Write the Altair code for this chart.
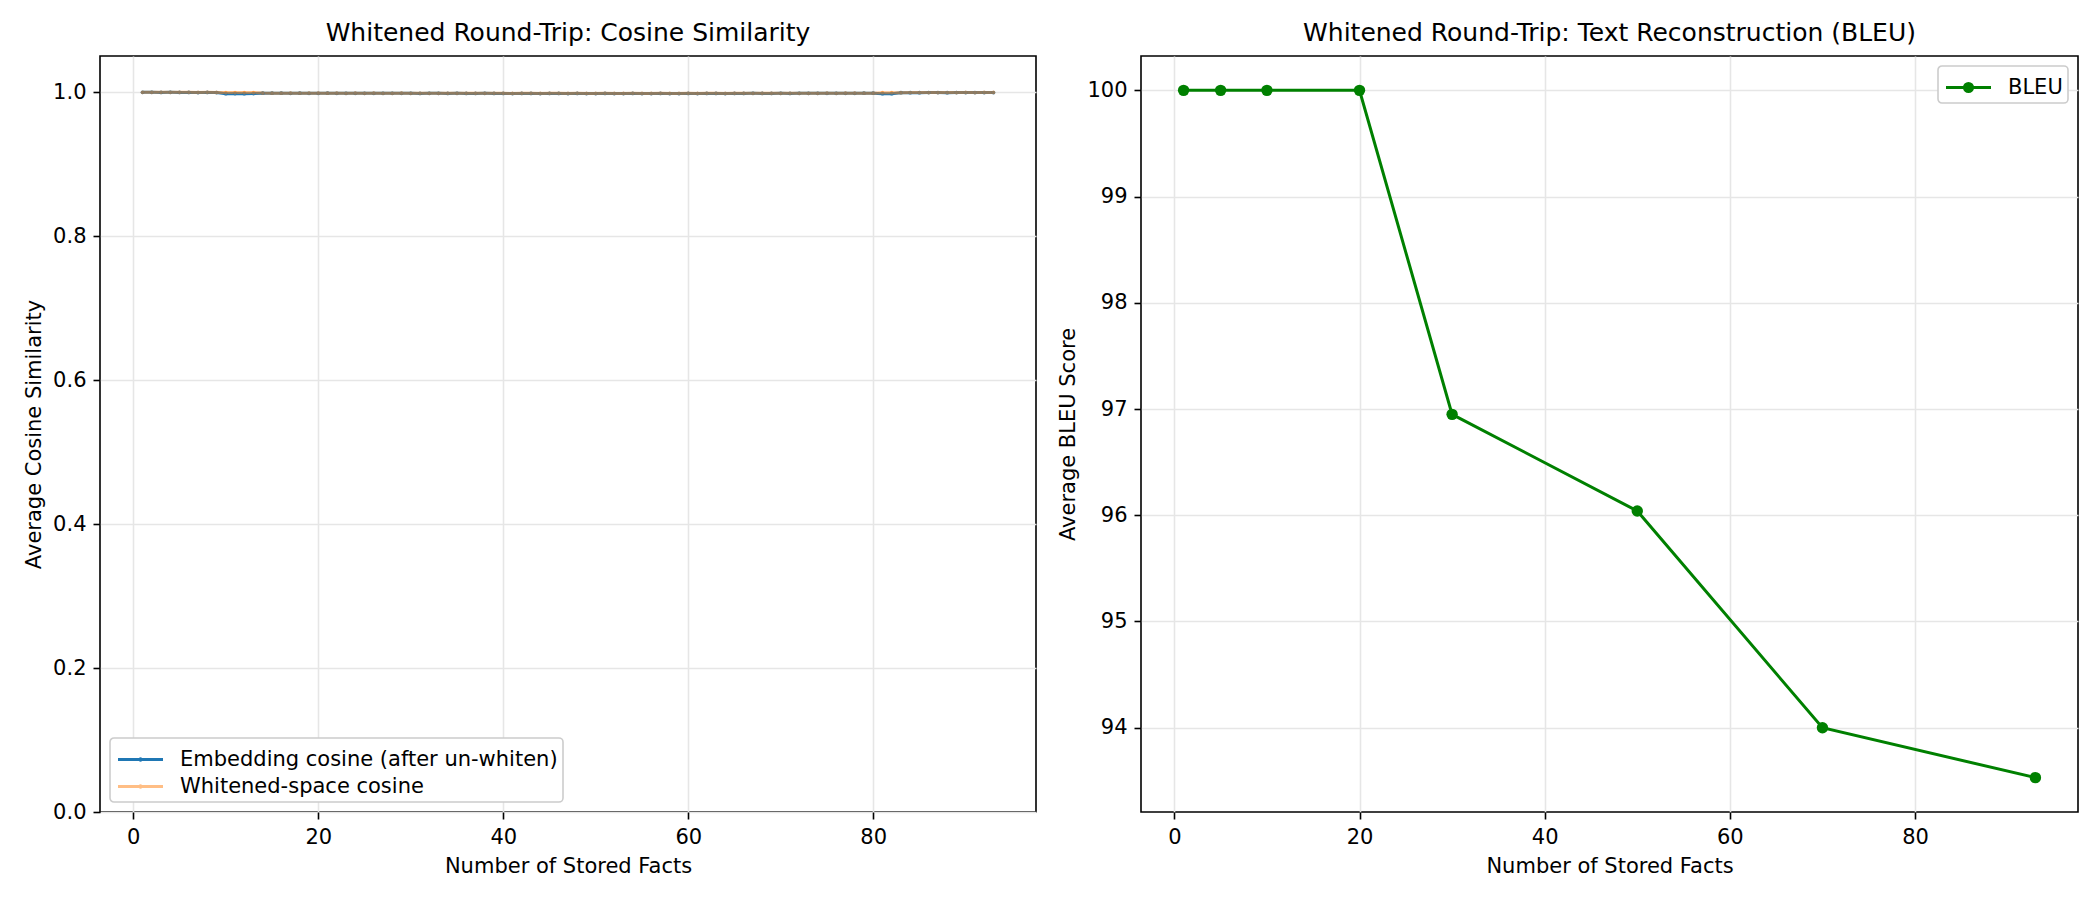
import altair as alt
import pandas as pd

FONT = "DejaVu Sans"

# --- left panel: cosine similarity per number of stored facts ---
n_facts = list(range(1, 94))

emb_cos = [
    0.9995, 0.9995, 0.9994, 0.9995, 0.9994, 0.9994, 0.9993, 0.9994, 0.9993,
    0.9977, 0.9978, 0.9976, 0.9978,
    0.9984, 0.9983, 0.9983, 0.9982, 0.9983, 0.9982, 0.9982, 0.9983, 0.9982, 0.9981,
    0.9982, 0.9981, 0.9982, 0.9981, 0.9981, 0.9982, 0.9981, 0.9980, 0.9981, 0.9981,
    0.9980, 0.9981, 0.9980, 0.9980, 0.9981, 0.9980, 0.9980, 0.9979, 0.9980, 0.9980,
    0.9979, 0.9980, 0.9980, 0.9979, 0.9980, 0.9979, 0.9979, 0.9980, 0.9979, 0.9979,
    0.9980, 0.9979, 0.9979, 0.9980, 0.9979, 0.9979, 0.9980, 0.9979, 0.9980, 0.9980,
    0.9979, 0.9980, 0.9980, 0.9981, 0.9980, 0.9980, 0.9981, 0.9980, 0.9981, 0.9981,
    0.9981, 0.9982, 0.9981, 0.9982, 0.9982, 0.9983, 0.9983,
    0.9976, 0.9977,
    0.9990, 0.9991, 0.9991, 0.9992, 0.9992, 0.9991, 0.9992, 0.9993, 0.9992, 0.9993, 0.9993,
]

whit_cos = [
    0.9996, 0.9996, 0.9995, 0.9996, 0.9995, 0.9995, 0.9994, 0.9995, 0.9994,
    0.9992, 0.9993, 0.9992, 0.9993,
    0.9985, 0.9984, 0.9984, 0.9983, 0.9984, 0.9983, 0.9983, 0.9984, 0.9983, 0.9982,
    0.9983, 0.9982, 0.9983, 0.9982, 0.9982, 0.9983, 0.9982, 0.9981, 0.9982, 0.9982,
    0.9981, 0.9982, 0.9981, 0.9981, 0.9982, 0.9981, 0.9981, 0.9980, 0.9981, 0.9981,
    0.9980, 0.9981, 0.9981, 0.9980, 0.9981, 0.9980, 0.9980, 0.9981, 0.9980, 0.9980,
    0.9981, 0.9980, 0.9980, 0.9981, 0.9980, 0.9980, 0.9981, 0.9980, 0.9981, 0.9981,
    0.9980, 0.9981, 0.9981, 0.9982, 0.9981, 0.9981, 0.9982, 0.9981, 0.9982, 0.9982,
    0.9982, 0.9983, 0.9982, 0.9983, 0.9983, 0.9984, 0.9984,
    0.9990, 0.9991,
    0.9991, 0.9992, 0.9992, 0.9993, 0.9993, 0.9992, 0.9993, 0.9994, 0.9993, 0.9994, 0.9994,
]

series_names = ["Embedding cosine (after un-whiten)", "Whitened-space cosine"]

# --- right panel: BLEU ---
bleu_n = [1, 5, 10, 20, 30, 50, 70, 93]
bleu_score = [100.0, 100.0, 100.0, 100.0, 96.95, 96.04, 94.0, 93.53]

cos_df = pd.concat([
    pd.DataFrame({"n": n_facts, "cos": emb_cos, "series": series_names[0]}),
    pd.DataFrame({"n": n_facts, "cos": whit_cos, "series": series_names[1]}),
])
bleu_df = pd.DataFrame({"n": bleu_n, "bleu": bleu_score, "series": "BLEU"})

title_style = dict(fontSize=25, font=FONT, fontWeight="normal", anchor="middle", offset=10, color="black")

# legend symbols: a 45px line with a dot, drawn wider than the 30px slot
legend_style = dict(
    title=None,
    labelFontSize=21,
    labelFont=FONT,
    labelColor="black",
    labelOffset=23,
    labelLimit=0,
    fillColor="white",
    strokeColor="#cccccc",
    cornerRadius=4,
    padding=5,
    offset=10,
    symbolSize=900,
    symbolOffset=9,
    symbolStrokeWidth=3,
)

small_dot = "M-1.5,0H1.5M-0.05,0A0.05,0.05,0,1,1,0.05,0A0.05,0.05,0,1,1,-0.05,0"
big_dot = "M-1.5,0H1.5M-0.27,0A0.27,0.27,0,1,1,0.27,0A0.27,0.27,0,1,1,-0.27,0"

x_enc = alt.X(
    "n:Q",
    scale=alt.Scale(domain=[-3.6, 97.6], nice=False, zero=False),
    axis=alt.Axis(title="Number of Stored Facts", values=[0, 20, 40, 60, 80]),
)

left_legend = alt.Legend(orient="bottom-left", symbolType=small_dot, **legend_style)

left = alt.Chart(cos_df).mark_line(
    strokeWidth=3,
    point=alt.OverlayMarkDef(filled=True, size=14),
).encode(
    x=x_enc,
    y=alt.Y(
        "cos:Q",
        scale=alt.Scale(domain=[0, 1.05], nice=False, zero=False),
        axis=alt.Axis(
            title="Average Cosine Similarity",
            values=[0, 0.2, 0.4, 0.6, 0.8, 1.0],
            format=".1f",
        ),
    ),
    color=alt.Color(
        "series:N",
        scale=alt.Scale(domain=series_names, range=["#1f77b4", "#ff7f0e"]),
        legend=left_legend,
    ),
    opacity=alt.Opacity(
        "series:N",
        scale=alt.Scale(domain=series_names, range=[1.0, 0.5]),
        legend=left_legend,
    ),
).properties(
    width=936,
    height=756,
    title=alt.TitleParams("Whitened Round-Trip: Cosine Similarity", **title_style),
)

right = alt.Chart(bleu_df).mark_line(
    strokeWidth=3,
    point=alt.OverlayMarkDef(filled=True, size=130),
).encode(
    x=x_enc,
    y=alt.Y(
        "bleu:Q",
        scale=alt.Scale(domain=[93.2065, 100.3235], nice=False, zero=False),
        axis=alt.Axis(title="Average BLEU Score", values=[94, 95, 96, 97, 98, 99, 100]),
    ),
    color=alt.Color(
        "series:N",
        scale=alt.Scale(domain=["BLEU"], range=["green"]),
        legend=alt.Legend(orient="top-right", symbolType=big_dot, **legend_style),
    ),
).properties(
    width=937,
    height=756,
    title=alt.TitleParams("Whitened Round-Trip: Text Reconstruction (BLEU)", **title_style),
)

chart = alt.hconcat(left, right, spacing=20).resolve_scale(
    color="independent",
    opacity="independent",
).resolve_legend(
    color="independent",
    opacity="independent",
).properties(
    padding={"left": 14, "top": 12, "right": 5, "bottom": 5},
    background="white",
).configure_view(
    stroke="black",
    strokeWidth=1.6,
).configure_legend(
    rowPadding=0,
    strokeWidth=1.6,
).configure_axis(
    labelFont=FONT,
    titleFont=FONT,
    labelFontSize=21,
    titleFontSize=21,
    labelColor="black",
    titleColor="black",
    titleFontWeight="normal",
    tickColor="black",
    tickSize=7,
    tickWidth=1.6,
    labelPadding=7,
    titlePadding=8,
    domain=False,
    gridColor="#e6e6e6",
    gridWidth=1.6,
    labelFlush=False,
)

chart.save("out.html", embed_options={"renderer": "svg", "actions": False})
